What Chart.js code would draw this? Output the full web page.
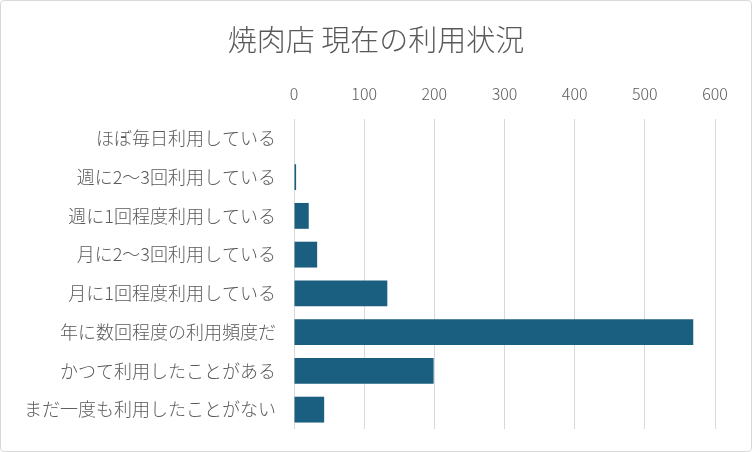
<!DOCTYPE html>
<html>
<head>
<meta charset="utf-8">
<script src="https://cdn.jsdelivr.net/npm/chart.js@4"></script>
<style>
  body { margin: 0; background: #fff; }
  .box {
    width: 750px; height: 450px;
    border: 1px solid #d9d9d9; border-radius: 4px;
  }
</style>
</head>
<body>
<div class="box"><canvas id="myChart" width="750" height="450"></canvas></div>
<script>
// 焼肉店の利用状況
var categories = [
  "ほぼ毎日利用している",
  "週に2～3回利用している",
  "週に1回程度利用している",
  "月に2～3回利用している",
  "月に1回程度利用している",
  "年に数回程度の利用頻度だ",
  "かつて利用したことがある",
  "まだ一度も利用したことがない"
];
var counts = [0, 3, 21, 33, 133, 569, 199, 43];
var xTicks = [0, 100, 200, 300, 400, 500, 600];

var jp = "'Noto Sans CJK JP', 'Noto Sans', sans-serif";
var grey = "#595959";

var ctx = document.getElementById("myChart");
var config = {
  type: "bar",
  data: {
    labels: categories,
    datasets: [
      {
        data: counts,
        backgroundColor: "#1a5e80",
        categoryPercentage: 1,
        barPercentage: 0.667
      }
    ]
  },
  options: {
    indexAxis: "y",
    responsive: false,
    animation: false,
    layout: {
      padding: { top: 12, right: 0, bottom: 22, left: 0 }
    },
    plugins: {
      legend: { display: false },
      tooltip: { enabled: false },
      title: {
        display: true,
        text: "焼肉店 現在の利用状況",
        color: grey,
        font: { family: jp, size: 29, weight: 300 },
        padding: { top: 10, bottom: 12 }
      }
    },
    scales: {
      x: {
        position: "top",
        min: xTicks[0],
        max: xTicks[xTicks.length - 1],
        afterBuildTicks: function (axis) {
          axis.ticks = xTicks.map(function (v) { return { value: v }; });
        },
        grid: { color: "#d9d9d9", lineWidth: 1, drawTicks: false },
        border: { display: false },
        ticks: {
          color: grey,
          padding: 15,
          font: { family: jp, size: 16, weight: 300 }
        }
      },
      y: {
        afterFit: function (axis) { axis.width = 293; },
        grid: { display: false },
        border: { display: false },
        ticks: {
          color: grey,
          padding: 10,
          autoSkip: false,
          font: { family: jp, size: 18, weight: 300 }
        }
      },
      // empty right axis, only keeps space on the right
      yRight: {
        type: "linear",
        position: "right",
        afterFit: function (axis) { axis.width = 36; },
        grid: { display: false },
        border: { display: false },
        ticks: { display: false }
      }
    }
  }
};
var myChart = new Chart(ctx, config);
</script>
</body>
</html>
